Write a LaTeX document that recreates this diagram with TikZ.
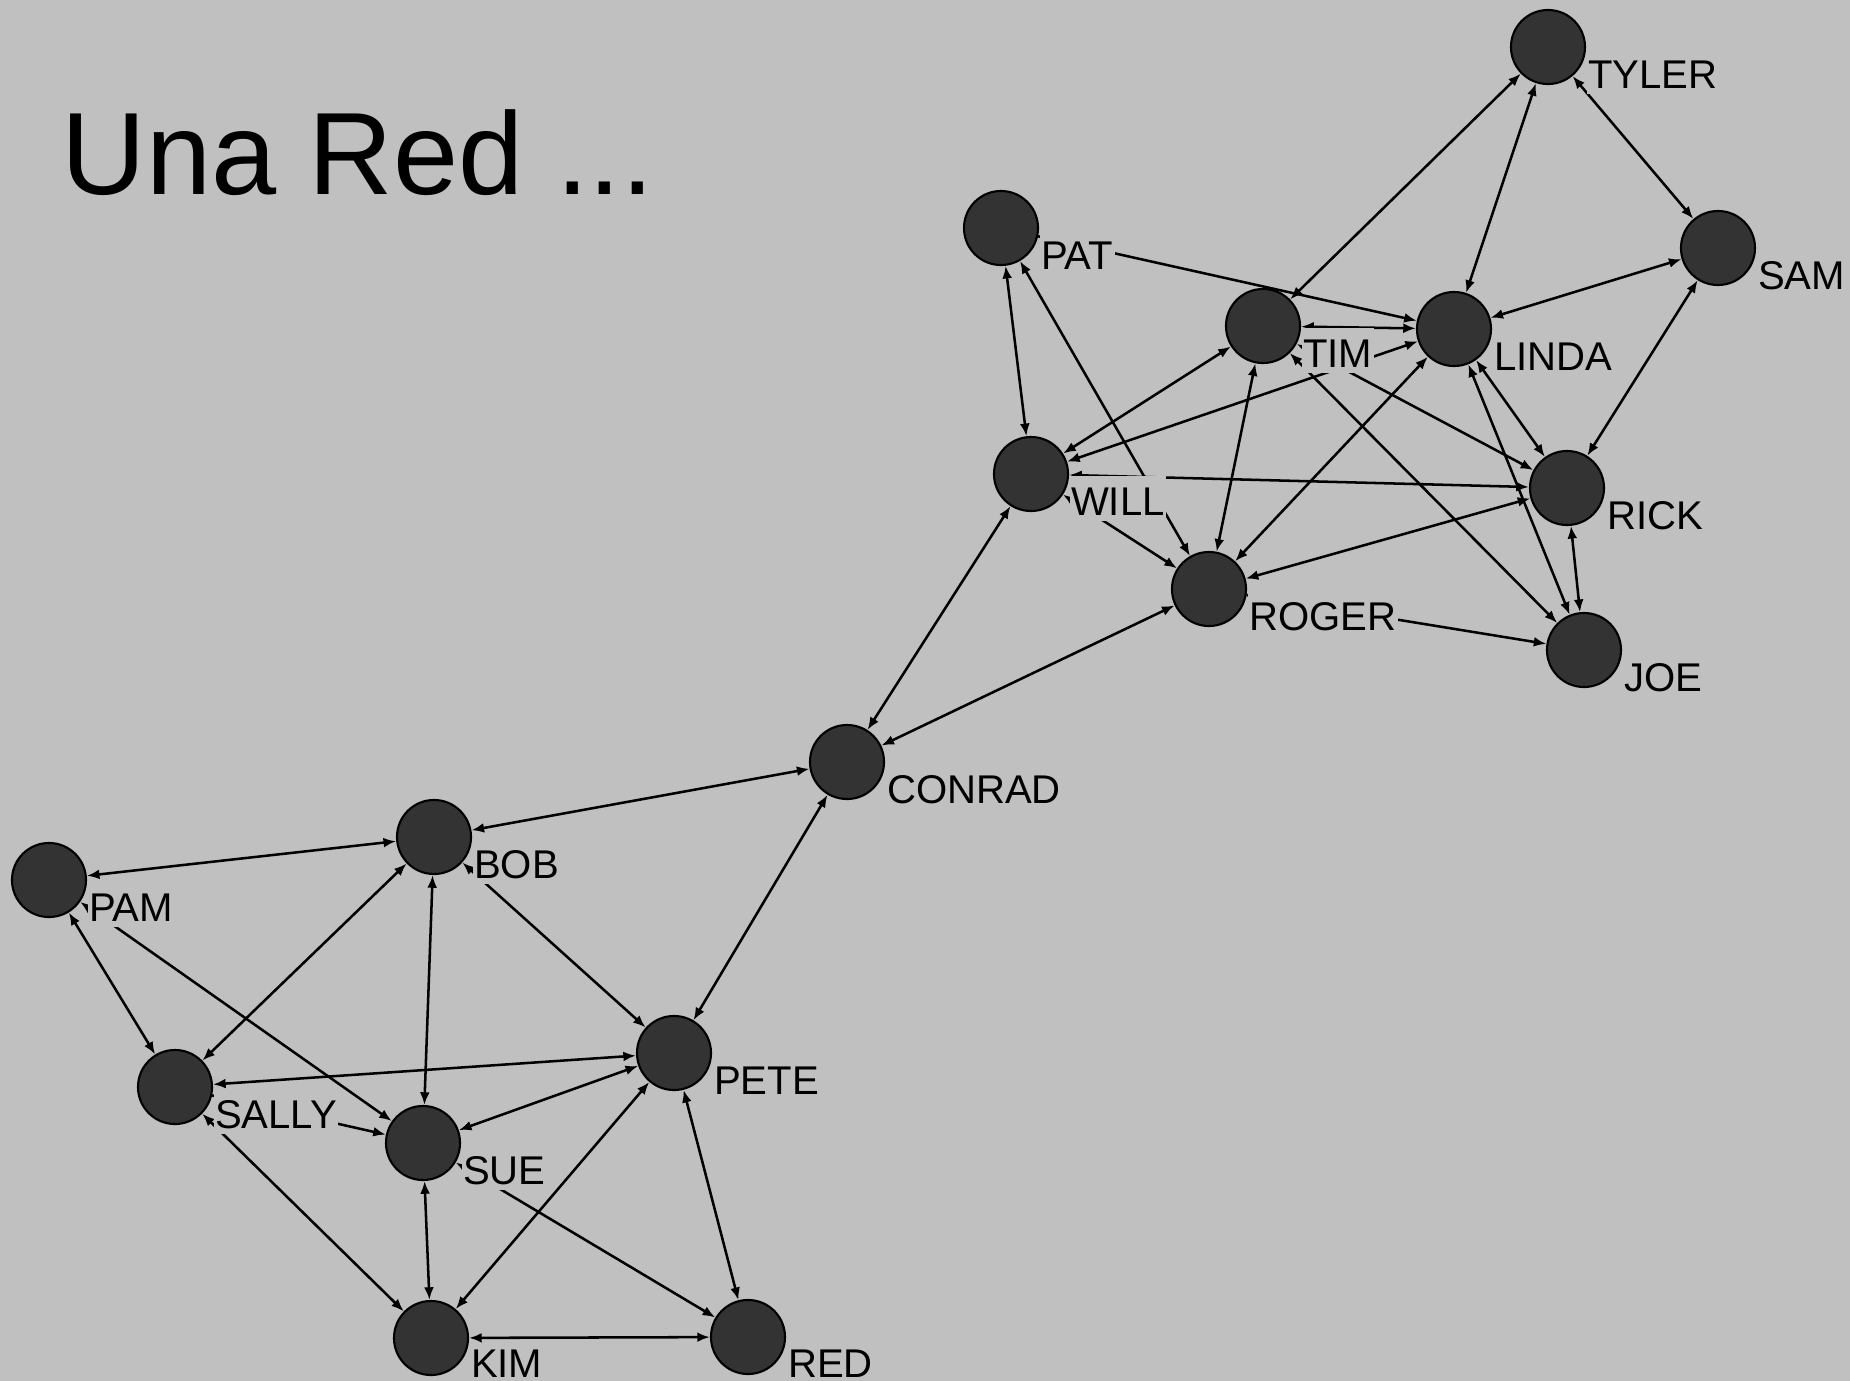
\documentclass[tikz,border=0pt]{standalone}
\usepackage{fontspec}
\setmainfont{Liberation Sans}
\usetikzlibrary{arrows.meta}

\definecolor{slidegray}{RGB}{192,192,192}
\definecolor{dotgray}{RGB}{51,51,51}

\begin{document}
\begin{tikzpicture}[x=0.01cm,y=-0.01cm,
		person/.style={circle,draw=black,fill=dotgray,line width=0.6pt,minimum size=0.74cm,inner sep=0pt},
		tie/.style={line width=0.72pt,{Latex[length=3.6pt,width=2.8pt]}-{Latex[length=3.6pt,width=2.8pt]}},
		oneway/.style={line width=0.72pt,-{Latex[length=3.6pt,width=2.8pt]}},
		lbl/.style={anchor=base west,fill=slidegray,inner sep=0.4pt,text height=0.38cm,text depth=0.05cm,font=\fontsize{11.4pt}{12pt}\selectfont},
		lowlbl/.style={lbl,text height=0.3cm,text depth=0.02cm}]
		\useasboundingbox (0,0) rectangle (1850,1381);
		\fill[slidegray] (0,0) rectangle (1850,1381);
		
		\node[anchor=base west,inner sep=0pt,font=\fontsize{33.3pt}{36pt}\selectfont] (title) at (61,194) {Una Red ...};
		
		% upper group
		\node[person] (tyler)  at (1548,47)   {};
		\node[person] (pat)    at (1001,228)  {};
		\node[person] (sam)    at (1718,248)  {};
		\node[person] (tim)    at (1263,326)  {};
		\node[person] (linda)  at (1454,329)  {};
		\node[person] (will)   at (1031,474)  {};
		\node[person] (rick)   at (1567,488)  {};
		\node[person] (roger)  at (1209,589)  {};
		\node[person] (joe)    at (1584,650)  {};
		\node[person] (conrad) at (847,762)   {};
		% lower group
		\node[person] (bob)    at (434,837)   {};
		\node[person] (pam)    at (49,880)    {};
		\node[person] (pete)   at (674,1053)  {};
		\node[person] (sally)  at (175,1087)  {};
		\node[person] (sue)    at (423,1143)  {};
		\node[person] (kim)    at (431,1338)  {};
		\node[person] (red)    at (748,1337)  {};
		
		\draw[tie] (tyler) -- (tim);
		\draw[tie] (tyler) -- (linda);
		\draw[tie] (tyler) -- (sam);
		\draw[tie] (pat) -- (will);
		\draw[tie] (pat) -- (roger);
		\draw[oneway] (pat) -- (linda);
		\draw[tie] (sam) -- (linda);
		\draw[tie] (sam) -- (rick);
		\draw[tie] (tim) -- (linda);
		\draw[tie] (tim) -- (will);
		\draw[tie] (tim) -- (roger);
		\draw[tie] (tim) -- (rick);
		\draw[tie] (tim) -- (joe);
		\draw[tie] (will) -- (linda);
		\draw[tie] (will) -- (rick);
		\draw[tie] (will) -- (roger);
		\draw[tie] (linda) -- (roger);
		\draw[tie] (linda) -- (rick);
		\draw[tie] (linda) -- (joe);
		\draw[tie] (rick) -- (joe);
		\draw[tie] (rick) -- (roger);
		\draw[oneway] (roger) -- (joe);
		\draw[tie] (conrad) -- (will);
		\draw[tie] (conrad) -- (roger);
		\draw[tie] (conrad) -- (bob);
		\draw[tie] (conrad) -- (pete);
		
		\draw[tie] (pam) -- (bob);
		\draw[tie] (pam) -- (sally);
		\draw[tie] (pam) -- (sue);
		\draw[tie] (bob) -- (sally);
		\draw[tie] (bob) -- (sue);
		\draw[tie] (bob) -- (pete);
		\draw[tie] (sally) -- (pete);
		\draw[oneway] (sally) -- (sue);
		\draw[tie] (sally) -- (kim);
		\draw[tie] (sue) -- (pete);
		\draw[tie] (sue) -- (kim);
		\draw[tie] (sue) -- (red);
		\draw[tie] (pete) -- (kim);
		\draw[tie] (pete) -- (red);
		\draw[tie] (kim) -- (red);
		
		% names go on top of the ties
		\node[lbl] (tylername)  at (1586,88)   {TYLER};
		\node[lbl] (patname)    at (1039,269)  {PAT};
		\node[lbl] (samname)    at (1756,289)  {SAM};
		\node[lbl] (timname)    at (1301,367)  {TIM};
		\node[lbl] (lindaname)  at (1492,370)  {LINDA};
		\node[lbl] (willname)   at (1069,515)  {WILL};
		\node[lbl] (rickname)   at (1605,529)  {RICK};
		\node[lbl] (rogername)  at (1247,630)  {ROGER};
		\node[lbl] (joename)    at (1622,691)  {JOE};
		\node[lbl] (conradname) at (885,803)   {CONRAD};
		\node[lbl] (bobname)    at (472,878)   {BOB};
		\node[lbl] (pamname)    at (87,921)    {PAM};
		\node[lbl] (petename)   at (712,1094)  {PETE};
		\node[lbl] (sallyname)  at (213,1128)  {SALLY};
		\node[lbl] (suename)    at (461,1184)  {SUE};
		\node[lowlbl] (kimname) at (469,1377)  {KIM};
		\node[lowlbl] (redname) at (786,1377)  {RED};
\end{tikzpicture}
\end{document}
